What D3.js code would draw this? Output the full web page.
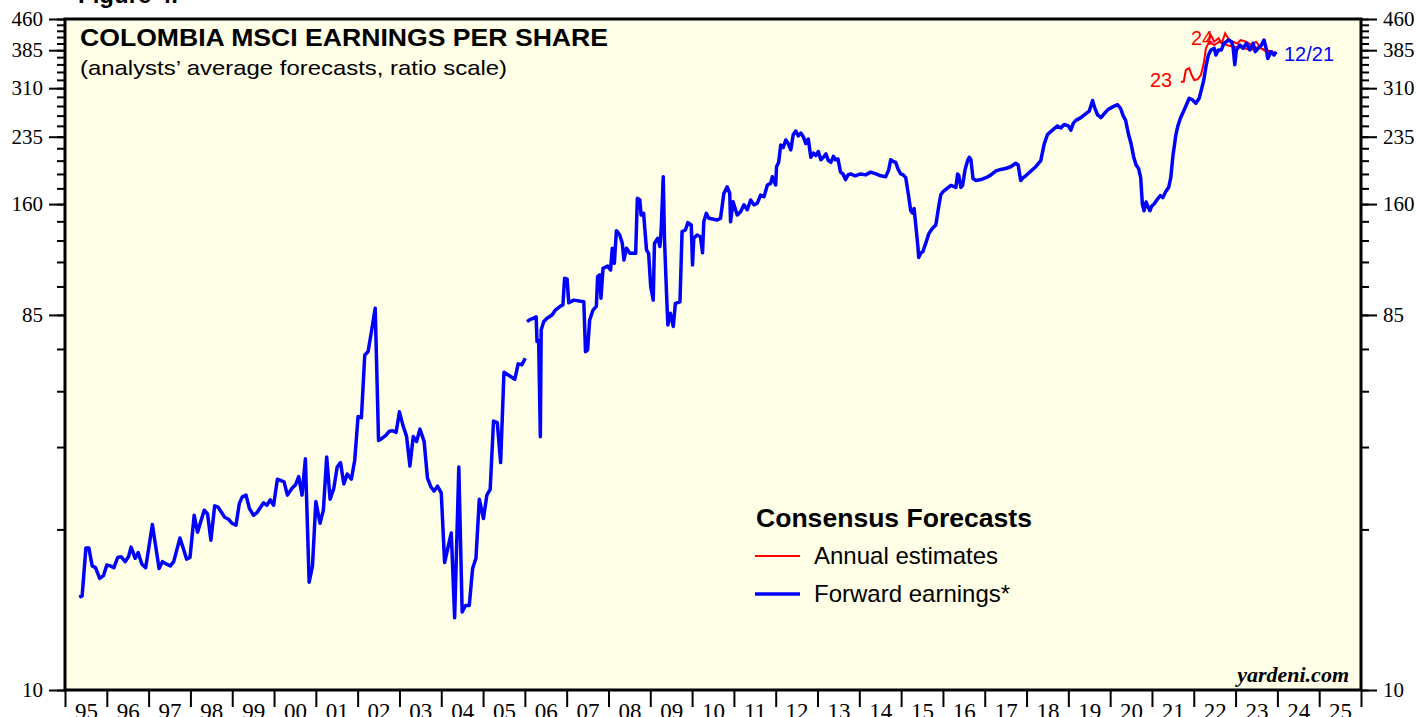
<!DOCTYPE html>
<html><head><meta charset="utf-8">
<script src="https://cdn.jsdelivr.net/npm/d3@7"></script>
<style>html,body{margin:0;padding:0;background:#fff;} svg{display:block}</style>
</head><body><svg id="c" width="1416" height="717"></svg>
<script>
// ---------- data ----------
const yearLabels = ["95","96","97","98","99","00","01","02","03","04","05","06","07","08","09","10","11","12","13","14","15","16","17","18","19","20","21","22","23","24","25"];
const yMajor = [10,85,160,235,310,385,460];

// forward earnings, monthly series 1995-2005 [decimal year, value]
const fwdEarly = [
[1995.34,17.0],[1995.41,17.1],[1995.50,22.5],[1995.57,22.5],[1995.65,20.3],[1995.73,20.1],[1995.83,18.9],[1995.92,19.2],
[1996.00,20.4],[1996.08,20.3],[1996.17,20.1],[1996.26,21.3],[1996.34,21.4],[1996.44,20.8],[1996.52,21.4],[1996.58,22.6],
[1996.68,21.2],[1996.75,21.9],[1996.84,20.5],[1996.93,20.1],[1997.09,25.7],[1997.25,20.0],[1997.33,20.8],[1997.43,20.5],
[1997.52,20.3],[1997.60,20.8],[1997.75,23.8],[1997.91,21.1],[1997.99,21.3],[1998.09,27.1],[1998.17,24.6],[1998.33,27.9],
[1998.41,27.3],[1998.49,23.5],[1998.58,28.6],[1998.66,28.4],[1998.82,26.8],[1998.91,26.5],[1998.99,25.9],[1999.09,25.6],
[1999.17,29.0],[1999.24,30.1],[1999.33,30.4],[1999.41,28.2],[1999.51,27.1],[1999.59,27.5],[1999.75,29.1],[1999.83,28.7],
[1999.91,29.6],[1999.99,28.7],[2000.08,33.3],[2000.24,32.8],[2000.32,30.4],[2000.43,31.6],[2000.51,32.2],[2000.59,33.8],
[2000.67,30.4],[2000.75,37.4],[2000.84,18.5],[2000.92,20.3],[2001.00,29.3],[2001.10,25.9],[2001.18,27.9],[2001.26,37.8],
[2001.34,29.7],[2001.43,31.6],[2001.51,35.7],[2001.59,36.6],[2001.67,32.4],[2001.75,34.3],[2001.85,33.3],[2001.93,37.1],
[2002.01,47.6],[2002.09,47.3],[2002.17,67.6],[2002.25,69.0],[2002.33,77.3],[2002.42,88.3],[2002.50,41.5],[2002.58,42.0],
[2002.68,42.8],[2002.76,43.8],[2002.84,43.9],[2002.92,43.5],[2003.00,48.9],[2003.08,45.4],[2003.17,42.5],[2003.25,35.9],
[2003.33,42.5],[2003.41,41.3],[2003.49,44.3],[2003.59,41.3],[2003.67,33.5],[2003.75,31.9],[2003.83,31.1],[2003.91,32.0],
[2004.00,30.8],[2004.08,20.7],[2004.24,24.5],[2004.32,15.1],[2004.42,35.7],[2004.50,15.6],[2004.58,16.2],[2004.67,16.2],
[2004.75,20.0],[2004.83,21.2],[2004.91,29.7],[2005.01,26.6],[2005.09,30.4],[2005.17,31.4],[2005.25,46.4],[2005.34,46.0],
[2005.42,36.6],[2005.50,61.3],[2005.76,58.9],[2005.84,64.3],[2005.93,64.0],[2006.01,66.4]
];

// forward earnings, weekly series 2006-2023
const fwdLate = [
[2006.05,81.8],[2006.13,82.9],[2006.21,83.4],[2006.27,84.1],[2006.29,73.0],[2006.33,73.3],[2006.37,42.4],[2006.39,78.0],
[2006.45,81.8],[2006.53,83.4],[2006.65,85.0],[2006.73,87.4],[2006.85,89.4],[2006.91,90.0],[2006.95,104.8],[2007.01,104.2],
[2007.05,91.1],[2007.17,92.5],[2007.41,91.6],[2007.45,68.9],[2007.50,69.6],[2007.55,82.6],[2007.63,87.4],[2007.71,89.3],
[2007.74,105.8],[2007.79,106.9],[2007.82,93.5],[2007.87,110.9],[2007.98,112.3],[2008.05,109.8],[2008.09,124.3],[2008.14,114.1],
[2008.19,137.5],[2008.27,134.1],[2008.33,128.0],[2008.37,116.3],[2008.43,124.3],[2008.51,120.8],[2008.65,120.8],[2008.69,165.4],
[2008.75,163.8],[2008.78,150.3],[2008.84,151.8],[2008.91,123.1],[2008.96,120.8],[2009.01,99.9],[2009.07,92.5],[2009.10,128.0],
[2009.18,131.6],[2009.23,125.6],[2009.26,138.0],[2009.31,187.0],[2009.34,130.3],[2009.39,95.2],[2009.42,80.3],[2009.48,85.8],
[2009.55,79.6],[2009.60,90.8],[2009.71,91.6],[2009.76,136.7],[2009.84,138.0],[2009.90,143.9],[2009.98,142.1],[2010.01,113.0],
[2010.04,131.6],[2010.12,134.1],[2010.20,132.8],[2010.25,121.2],[2010.28,144.7],[2010.34,151.8],[2010.40,147.5],[2010.60,146.1],
[2010.68,147.5],[2010.76,170.1],[2010.84,176.6],[2010.90,170.1],[2010.92,144.7],[2010.98,162.2],[2011.08,150.3],[2011.16,153.2],
[2011.24,159.3],[2011.32,154.9],[2011.40,163.8],[2011.48,159.3],[2011.56,160.8],[2011.64,168.5],[2011.72,166.9],[2011.80,178.4],
[2011.88,180.1],[2011.92,187.0],[2012.00,178.4],[2012.02,198.1],[2012.07,203],[2012.12,224],[2012.18,221],[2012.24,230.6],
[2012.30,226],[2012.36,218],[2012.42,238],[2012.48,242.8],[2012.54,236],[2012.60,240],[2012.66,235],[2012.72,226],
[2012.78,232],[2012.84,209],[2012.90,214],[2012.96,211],[2013.02,216],[2013.08,206],[2013.14,209],[2013.20,213],
[2013.26,205],[2013.32,203],[2013.38,210],[2013.43,206],[2013.49,207],[2013.55,192],[2013.61,190],[2013.67,184],
[2013.73,189],[2013.79,190],[2013.90,188],[2014.03,190],[2014.15,189],[2014.27,192],[2014.40,190],[2014.51,188],
[2014.63,187],[2014.70,194],[2014.75,206],[2014.81,204],[2014.87,203],[2014.93,195],[2014.99,190],[2015.05,189],
[2015.11,186],[2015.17,170],[2015.23,154],[2015.27,152],[2015.31,156],[2015.35,142],[2015.40,126],[2015.42,118],
[2015.47,121],[2015.52,122],[2015.59,128],[2015.66,135],[2015.74,139],[2015.83,142],[2015.90,158],[2015.95,169],
[2016.01,172],[2016.07,174],[2016.13,176],[2016.19,178],[2016.25,177],[2016.31,176],[2016.35,190],[2016.38,188],
[2016.43,176],[2016.47,178],[2016.53,195],[2016.59,205],[2016.63,209],[2016.67,206],[2016.72,185],[2016.79,183],
[2016.91,184],[2017.03,186],[2017.15,189],[2017.26,193],[2017.38,195],[2017.50,196],[2017.62,198],[2017.74,202],
[2017.80,200],[2017.86,183],[2017.92,186],[2017.98,188],[2018.10,193],[2018.22,198],[2018.34,205],[2018.42,225],
[2018.50,238],[2018.58,242],[2018.66,246],[2018.74,250],[2018.82,247],[2018.90,252],[2019.00,250],[2019.06,244],
[2019.12,254],[2019.18,258],[2019.30,262],[2019.42,268],[2019.50,272],[2019.58,289],[2019.62,279],[2019.70,266],
[2019.78,262],[2019.86,268],[2019.94,274],[2020.02,277],[2020.10,280],[2020.18,282],[2020.25,276],[2020.31,265],
[2020.37,258],[2020.44,238],[2020.50,226],[2020.56,210],[2020.62,200],[2020.68,196],[2020.73,186],[2020.77,160],
[2020.81,154],[2020.86,162],[2020.90,158],[2020.95,154],[2020.99,158],[2021.05,160],[2021.12,164],[2021.20,168],
[2021.26,166],[2021.33,172],[2021.40,176],[2021.45,186],[2021.50,210],[2021.57,237],[2021.62,250],[2021.68,261],
[2021.77,273.7],[2021.89,292.7],[2021.97,289.9],[2022.05,284.4],[2022.13,292.7],[2022.17,303.9],[2022.24,324.8],[2022.29,350.5],
[2022.35,374.6],[2022.41,385.5],[2022.49,389.2],[2022.53,374.6],[2022.59,385.5],[2022.66,385.5],[2022.72,400.5],[2022.78,404.2],
[2022.83,408.1],[2022.90,404.2],[2022.94,392.8],[2022.98,354.4],[2023.02,385.5],[2023.10,396.6],[2023.18,389.2],[2023.26,400.5],
[2023.34,385.5],[2023.42,400.5],[2023.47,381.7],[2023.54,389.2],[2023.62,396.6],[2023.68,408.1],[2023.73,389.2],[2023.77,367.4],
[2023.85,381.7],[2023.92,374.6],[2023.97,381.7]
];

// annual estimates
const est23 = [
[2021.69,321.7],[2021.76,321.7],[2021.81,343.9],[2021.89,347.3],[2021.95,334.2],[2022.01,324.8],[2022.09,326.1],[2022.17,334.2],
[2022.24,357.3],[2022.29,389.2],[2022.37,404.2],[2022.49,396.6],[2022.61,404],[2022.78,396.6],[2022.94,392.8],[2023.13,391],
[2023.37,385.5],[2023.56,392.8],[2023.73,381.7],[2023.90,383]
];
const est24 = [
[2022.31,404.2],[2022.41,420],[2022.49,404.2],[2022.59,412],[2022.67,400.5],[2022.75,424],[2022.85,408],[2022.94,404],
[2023.04,400],[2023.12,408],[2023.25,404],[2023.37,397],[2023.49,404],[2023.61,389],[2023.73,385.5],[2023.89,381.7]
];

// ---------- chart ----------
const svg = d3.select("#c");
const L = 65, R = 1361, T = 19, B = 690;
const x = d3.scaleLinear().domain([1995, 2026]).range([L, R]);
const y = d3.scaleLog().domain([10, 460]).range([B, T]);

svg.append("rect").attr("x", L).attr("y", T).attr("width", R - L).attr("height", B - T).attr("fill", "#fffee6");

svg.append("defs").append("clipPath").attr("id", "clip")
  .append("rect").attr("x", L).attr("y", T).attr("width", R - L).attr("height", B - T);

const line = d3.line().x(d => x(d[0])).y(d => y(d[1]));
const g = svg.append("g").attr("clip-path", "url(#clip)");
g.append("path").datum(est23).attr("d", line).attr("fill", "none").attr("stroke", "#ff0000").attr("stroke-width", 2);
g.append("path").datum(est24).attr("d", line).attr("fill", "none").attr("stroke", "#ff0000").attr("stroke-width", 2);
g.append("path").datum(fwdEarly).attr("d", line).attr("fill", "none").attr("stroke", "#0000ff").attr("stroke-width", 3.5).attr("stroke-linejoin", "round");
g.append("path").datum(fwdLate).attr("d", line).attr("fill", "none").attr("stroke", "#0000ff").attr("stroke-width", 3.5).attr("stroke-linejoin", "round");

// border
svg.append("rect").attr("x", L).attr("y", T).attr("width", R - L).attr("height", B - T)
  .attr("fill", "none").attr("stroke", "#000").attr("stroke-width", 3);

// y axes
const yMinor = d3.range(10, 461, 15);
function styleAxis(sel) {
  sel.select(".domain").remove();
  sel.selectAll(".tick line").attr("stroke", "#000").attr("stroke-width", 2);
  sel.selectAll(".tick text").attr("font-family", "'Liberation Serif','Times New Roman',serif").attr("font-size", 21).attr("fill", "#000");
}
svg.append("g").attr("transform", `translate(${L},0)`)
  .call(d3.axisLeft(y).tickValues(yMinor).tickSize(8).tickFormat("")).call(styleAxis);
svg.append("g").attr("transform", `translate(${L},0)`)
  .call(d3.axisLeft(y).tickValues(yMajor).tickSize(16).tickPadding(6).tickFormat(d3.format("d"))).call(styleAxis);
svg.append("g").attr("transform", `translate(${R},0)`)
  .call(d3.axisRight(y).tickValues(yMinor).tickSize(8).tickFormat("")).call(styleAxis);
svg.append("g").attr("transform", `translate(${R},0)`)
  .call(d3.axisRight(y).tickValues(yMajor).tickSize(16).tickPadding(6).tickFormat(d3.format("d"))).call(styleAxis);

// x axis
const years = d3.range(1995, 2027);
svg.append("g").attr("transform", `translate(0,${B})`)
  .call(d3.axisBottom(x).tickValues(years).tickSize(17).tickFormat("")).call(styleAxis);
const mids = yearLabels.map((s, i) => 1995.5 + i);
svg.append("g").attr("transform", `translate(0,${B})`)
  .call(d3.axisBottom(x).tickValues(mids).tickSize(0).tickPadding(13).tickFormat((d, i) => yearLabels[i]))
  .call(styleAxis)
  .call(s => s.selectAll(".tick text").attr("font-size", 23));

// texts
const sans = "Arial, 'Liberation Sans', Helvetica, sans-serif";
svg.append("text").attr("x", 78).attr("y", 3).text("Figure 4.")
  .attr("font-family", sans).attr("font-weight", "bold").attr("font-size", 24);
svg.append("text").attr("x", 80).attr("y", 46).text("COLOMBIA MSCI EARNINGS PER SHARE")
  .attr("font-family", sans).attr("font-weight", "bold").attr("font-size", 24)
  .attr("textLength", 528).attr("lengthAdjust", "spacingAndGlyphs");
svg.append("text").attr("x", 80).attr("y", 75).text("(analysts\u2019 average forecasts, ratio scale)")
  .attr("font-family", sans).attr("font-size", 21)
  .attr("textLength", 427).attr("lengthAdjust", "spacingAndGlyphs");

svg.append("text").attr("x", 1150).attr("y", 87).text("23").attr("font-family", sans).attr("font-size", 20).attr("fill", "#ff0000");
svg.append("text").attr("x", 1191).attr("y", 45).text("24").attr("font-family", sans).attr("font-size", 20).attr("fill", "#ff0000");
svg.append("text").attr("x", 1284).attr("y", 61).text("12/21").attr("font-family", sans).attr("font-size", 20).attr("fill", "#0000ff");

// legend
svg.append("text").attr("x", 756).attr("y", 527).text("Consensus Forecasts")
  .attr("font-family", sans).attr("font-weight", "bold").attr("font-size", 25)
  .attr("textLength", 276).attr("lengthAdjust", "spacingAndGlyphs");
svg.append("line").attr("x1", 755).attr("x2", 800).attr("y1", 556).attr("y2", 556).attr("stroke", "#ff0000").attr("stroke-width", 2);
svg.append("text").attr("x", 814).attr("y", 564).text("Annual estimates").attr("font-family", sans).attr("font-size", 24);
svg.append("line").attr("x1", 755).attr("x2", 800).attr("y1", 594).attr("y2", 594).attr("stroke", "#0000ff").attr("stroke-width", 3.5);
svg.append("text").attr("x", 814).attr("y", 602).text("Forward earnings*").attr("font-family", sans).attr("font-size", 24);

svg.append("text").attr("x", 1349).attr("y", 682).text("yardeni.com")
  .attr("font-family", "'Liberation Serif','Times New Roman',serif").attr("font-weight", "bold").attr("font-style", "italic")
  .attr("font-size", 22).attr("text-anchor", "end");
</script>
</body></html>
